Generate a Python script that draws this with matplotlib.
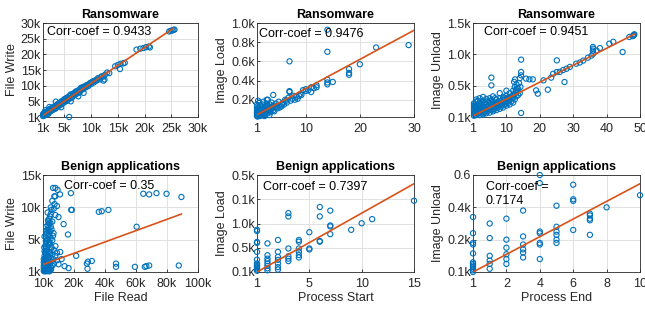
import numpy as np
import matplotlib
matplotlib.use('Agg')
import matplotlib.pyplot as plt

plt.rcParams['font.family'] = ['Liberation Sans', 'DejaVu Sans']
plt.rcParams['font.size'] = 9

BLUE = '#0072BD'
ORANGE = '#D95319'
DARK = '#262626'

# ---- panel 1: Ransomware, File Read vs File Write (thousands) ----
p1_x = [1.0, 1.0, 1.1, 1.2, 1.2, 1.3, 1.4, 1.5, 1.6, 1.7, 1.8, 1.9, 2.0, 2.1, 2.2, 2.4,
        2.5, 2.6, 2.8, 2.9, 3.0, 3.2, 3.3, 3.5, 3.6, 3.8, 3.9, 4.0, 4.2, 4.3, 4.5, 4.6,
        4.8, 4.9, 5.0, 5.2, 5.3, 5.5, 5.6, 5.8, 6.0, 6.1, 6.3, 6.5, 6.6, 6.8, 7.0, 7.1,
        7.3, 7.5, 7.7, 7.9, 8.0, 8.2, 8.4, 8.6, 8.8, 9.0, 9.2, 9.5, 9.7, 10.0, 10.2, 10.5,
        10.8, 11.0, 11.3, 11.6, 12.0, 12.3, 12.6, 13.0, 13.4, 14.5, 15.0, 15.5, 16.0, 16.3,
        15.4, 12.5, 12.3, 18.5, 19.2, 19.8, 20.3, 20.8, 21.0, 24.6, 24.9, 25.2, 25.4, 25.6,
        5.9, 1.5, 2.2, 3.4, 4.4, 6.2, 7.6, 8.6,
        1.3, 1.6, 2.0, 2.3, 2.7, 3.1, 3.4, 3.7, 4.1, 4.4, 4.7, 5.1, 5.4, 5.7, 6.2, 6.4,
        6.9, 7.2, 7.8, 8.1, 8.5, 9.1, 9.4, 9.9, 10.4, 11.1, 11.8]
p1_y = [0.3, 0.9, 0.6, 1.2, 0.4, 0.9, 1.4, 0.8, 1.5, 1.0, 1.8, 1.3, 2.1, 1.4, 2.3, 1.9,
        2.7, 2.0, 2.9, 2.3, 3.3, 2.6, 3.5, 3.0, 3.9, 3.4, 4.3, 3.6, 4.6, 3.9, 5.0, 4.3,
        5.3, 4.6, 5.7, 5.0, 6.0, 5.3, 6.3, 5.7, 6.8, 6.0, 7.0, 6.5, 7.4, 6.9, 7.9, 7.2,
        8.1, 7.6, 8.6, 8.1, 9.0, 8.6, 9.3, 9.0, 9.8, 9.5, 10.2, 10.0, 10.7, 10.5, 11.2, 11.0,
        11.7, 11.6, 12.4, 12.0, 13.0, 12.9, 13.5, 14.2, 14.0, 16.2, 16.6, 17.0, 17.1, 17.3,
        15.3, 12.0, 11.6, 21.5, 21.8, 22.0, 22.3, 22.5, 22.2, 27.3, 27.5, 27.6, 27.8, 27.9,
        0.0, 2.2, 3.2, 4.9, 3.1, 5.0, 6.6, 7.7,
        1.6, 0.7, 1.0, 2.6, 2.4, 3.0, 2.8, 3.3, 4.0, 4.8, 4.9, 5.5, 5.1, 6.0, 7.2, 6.2,
        7.6, 8.2, 7.9, 9.3, 9.6, 10.0, 9.8, 10.9, 11.4, 12.0, 12.7]
p1_fit_x = [1.0, 25.3]
p1_fit_y = [0.5, 28.2]

# ---- panel 2: Ransomware, Process Start vs Image Load ----
p2_x = [1, 1, 1, 1, 1, 1, 1, 1.2, 1.2, 1.3, 1.5, 1.5, 1.5, 1.6, 1.8, 1.8, 2, 2, 2, 2,
        2.2, 2.3, 2.5, 2.5, 2.7, 2.8, 3, 3, 3, 3, 3.2, 3.5, 3.5, 3.7, 3.8, 4, 4, 4, 4.3,
        4.5, 4.8, 5, 5, 5.5, 5.8, 6, 6.2, 6.5, 7, 7, 7, 7.2, 7.5, 7.8, 8, 8.3, 8.5, 9,
        9.5, 10, 10, 10.5, 11, 11, 11.5, 12, 12, 14, 14, 14, 14, 14, 15, 18, 18, 18, 20,
        23, 29, 2.8, 2.2, 1.4, 1.2, 1.1, 1.7, 2.4, 3.3,
        1, 1.1, 1.3, 1.4, 1.6, 1.9, 2.1, 2.4, 2.6, 2.9, 3.1, 3.4, 3.6, 3.9, 4.2, 4.6,
        5.2, 5.6, 6.4, 6.8, 8.8, 9.2]
p2_y = [30, 50, 70, 90, 110, 130, 150, 40, 80, 120, 30, 60, 100, 140, 50, 90, 40, 70, 110, 150,
        60, 100, 50, 130, 80, 160, 60, 100, 140, 200, 90, 120, 70, 170, 110, 90, 140, 250, 120,
        160, 110, 140, 180, 130, 170, 150, 200, 170, 280, 290, 600, 190, 210, 240, 200, 230, 210, 260,
        300, 310, 290, 300, 330, 280, 320, 350, 330, 930, 700, 410, 380, 360, 385, 520, 480, 460, 570,
        745, 770, 200, 180, 170, 190, 25, 35, 30, 40,
        60, 100, 60, 90, 70, 120, 90, 70, 110, 130, 80, 150, 100, 130, 80, 130,
        120, 150, 190, 220, 240, 250]
p2_fit_x = [1, 30]
p2_fit_y = [44, 924]

# ---- panel 3: Ransomware, Process End vs Image Unload ----
p3_x = [0.3, 0.3, 0.3, 0.3, 0.3, 0.3, 0.5, 0.5, 0.5, 1, 1, 1, 1, 1.5, 1.5, 1.5, 2, 2, 2, 2,
        2.5, 2.5, 2.5, 3, 3, 3, 3, 3.5, 3.5, 3.5, 4, 4, 4, 4, 4.5, 4.5, 5, 5, 5, 5, 5.5, 5.5,
        5.5, 5.5, 6, 6, 6, 6.5, 6.5, 7, 7, 7, 7.5, 7.5, 8, 8, 8, 8.5, 8.5, 9, 9, 9, 9.5, 9.5,
        10, 10, 10, 10.5, 10.5, 11, 11, 11, 11.5, 11.5, 12, 12, 12, 12.5, 12.5, 12.5, 13, 13,
        13, 13.5, 13.5, 14, 14, 14.4, 14.4, 14.4, 14.4, 15.9, 16.9, 17.9, 18.9, 19.4, 21.1, 22.4,
        25.1, 25.1, 23.4, 24, 26, 27.4, 27, 28, 29, 30.9, 32, 33, 34.4, 35.5, 35.9, 35.9, 36,
        36, 37, 38, 40.8, 42, 44.8, 46.8, 47.8, 48.2, 48.3, 48, 8, 6, 3, 10, 2, 1,
        0.8, 1.2, 1.8, 2.2, 2.8, 3.2, 3.8, 4.2, 4.8, 5.2, 5.8, 6.2, 6.8, 7.2, 7.8, 8.2,
        8.8, 9.2, 9.8, 10.2, 10.8, 11.2, 11.8, 12.2, 12.8, 13.2, 0.6, 1.4, 2.4, 3.6, 4.4,
        5.6, 6.6, 7.4, 8.6, 9.4, 12.3, 12.6, 13.8, 14.2]
p3_y = [20, 60, 100, 140, 180, 220, 40, 120, 200, 30, 80, 160, 240, 50, 110, 190, 30, 90, 150, 230,
        60, 130, 210, 40, 100, 170, 260, 80, 150, 230, 60, 120, 200, 290, 100, 180, 70, 140, 220, 300,
        110, 505, 628, 190, 90, 160, 250, 130, 210, 110, 180, 280, 150, 240, 130, 200, 300, 170, 260, 150,
        230, 320, 200, 280, 180, 250, 340, 220, 300, 200, 280, 380, 250, 330, 230, 310, 420, 280, 360, 480,
        330, 400, 520, 350, 450, 380, 620, 915, 718, 665, 64, 612, 601, 601, 425, 372, 585, 436,
        904, 718, 628, 690, 720, 558, 750, 770, 800, 851, 870, 900, 947, 980, 1117, 1060, 1010,
        1090, 1060, 1100, 1170, 1200, 1037, 1277, 1290, 1310, 1320, 1300, 380, 330, 320, 420, 300, 280,
        70, 120, 70, 190, 110, 60, 120, 160, 120, 250, 200, 120, 160, 230, 180, 250,
        200, 270, 240, 290, 260, 320, 300, 360, 430, 460, 160, 260, 180, 210, 250,
        270, 300, 200, 220, 310, 560, 600, 540, 480]
p3_fit_x = [0.5, 48.3]
p3_fit_y = [30, 1320]

# ---- panel 4: Benign, File Read vs File Write (thousands) ----
p4_x = [0.5, 0.5, 0.5, 0.5, 0.5, 1, 1, 1, 1, 1, 1, 1.5, 1.5, 1.5, 1.5, 1.5, 2, 2, 2, 2, 2, 2,
        2.5, 2.5, 2.5, 2.5, 2.5, 3, 3, 3, 3, 3, 3, 3, 3.5, 3.5, 3.5, 3.5, 3.5, 3.5, 4, 4, 4, 4,
        4, 4, 4, 4.5, 4.5, 4.5, 4.5, 4.5, 5, 5, 5, 5, 5, 5, 5.5, 5.5, 5.5, 5.5, 6, 6, 6, 6, 6.5,
        6.5, 6.5, 7, 7, 7, 7.3, 7.9, 8, 8, 8, 9, 9, 9.4, 9, 10, 10, 11.1, 12, 13.3, 13.9, 16.1,
        16.5, 18.0, 18.2, 18.6, 21.4, 28.3, 28.7, 29, 31.5, 36.0, 37.9, 42.2, 47.1, 47.1, 59.3,
        60.4, 64.7, 65.7, 66.7, 68.5, 68.5, 73.2, 79.7, 87.6, 89.3, 11, 8, 3, 2, 1, 6, 7.5, 5,
        0.8, 1.2, 1.8, 2.2, 2.8, 3.2, 3.8, 4.2, 4.8, 5.2, 0.8, 1.8, 2.8, 3.8, 4.8, 2.2, 3.2, 6.8]
p4_y = [0.2, 0.6, 1.0, 1.5, 2.0, 0.3, 0.8, 1.3, 1.8, 2.5, 3.2, 0.5, 1.1, 2.2, 3.0, 4.0, 0.4, 1.5,
        2.8, 3.6, 4.5, 5.2, 0.9, 2.0, 3.3, 4.8, 6.0, 0.6, 1.7, 2.6, 3.9, 5.5, 6.5, 7.2, 1.2, 2.4,
        4.2, 5.0, 6.8, 7.8, 0.5, 1.9, 3.1, 4.6, 5.8, 7.5, 8.2, 1.4, 2.9, 4.4, 6.3, 8.6, 0.8, 2.2,
        3.5, 5.2, 7.0, 9.0, 1.6, 3.8, 6.6, 9.6, 1.0, 2.7, 4.9, 7.8, 13.0, 2.0, 5.6, 1.3, 3.4, 9.8,
        11.7, 11.7, 2.5, 4.0, 8.8, 1.8, 3.0, 12.7, 10.2, 8.5, 1.2, 3.1, 2.0, 7.4, 0.9, 5.8, 0.6,
        12.2, 9.6, 9.6, 2.5, 1.3, 0.5, 1.6, 1.7, 9.3, 9.4, 9.6, 1.3, 0.8, 0.8, 7.0, 12.1, 0.8,
        0.9, 1.0, 12.0, 12.2, 12.1, 1.0, 11.6, 12.0, 13.0, 9.2, 7.0, 5.5, 11.0, 10.5, 10.0,
        0.1, 0.2, 0.3, 0.1, 0.2, 0.3, 0.2, 0.1, 0.3, 0.4, 3.8, 4.8, 5.0, 6.2, 7.6, 6.4, 8.0, 6.0]
p4_fit_x = [0, 89.3]
p4_fit_y = [1.15, 8.96]

# ---- panel 5: Benign, Process Start vs Image Load ----
p5_x = [0, 0, 0, 0, 0, 0, 0, 0, 0, 0, 0, 0, 0, 1, 1, 1, 1, 1, 1, 1, 1, 2, 2, 2, 2, 2, 2, 2,
        3, 3, 3, 3, 3, 3, 4, 4, 4, 4, 4, 4, 5, 5, 5, 6, 6, 6, 6, 7, 7, 7, 7, 9, 10, 11, 15]
p5_y = [0.05, 0.1, 0.15, 0.2, 0.25, 0.3, 0.35, 0.51, 0.83, 1.2, 1.24, 1.69, 1.74,
        0.07, 0.15, 0.25, 0.35, 0.45, 0.55, 0.69, 1.18, 0.1, 0.2, 0.35, 0.5, 0.62, 0.83, 1.32,
        0.45, 0.55, 0.65, 0.97, 2.29, 2.43, 0.6, 0.7, 0.83, 0.97, 1.25, 1.32,
        0.93, 0.97, 1.64, 1.25, 1.28, 2.29, 2.68, 1.56, 1.88, 1.92, 2.53, 1.74, 2.01, 2.18, 2.94]
p5_fit_x = [0, 15]
p5_fit_y = [0.0, 3.64]

# ---- panel 6: Benign, Process End vs Image Unload ----
p6_x = [0, 0, 0, 0, 0, 0, 0, 0, 0, 0, 0, 0, 1, 1, 1, 1, 1, 1, 2, 2, 2, 2, 2, 2, 3, 3, 3, 3, 3,
        3, 4, 4, 4, 4, 4, 4, 4, 5, 5, 5, 5, 5, 5, 6, 6, 6, 6, 7, 7, 7, 7, 7, 8, 10]
p6_y = [0.0, 0.01, 0.02, 0.03, 0.04, 0.05, 0.06, 0.115, 0.17, 0.18, 0.24, 0.34,
        0.02, 0.05, 0.07, 0.1, 0.21, 0.3, 0.05, 0.08, 0.11, 0.15, 0.2, 0.33,
        0.09, 0.12, 0.14, 0.17, 0.22, 0.38, 0.08, 0.17, 0.18, 0.24, 0.25, 0.55, 0.6,
        0.18, 0.2, 0.23, 0.25, 0.28, 0.41, 0.26, 0.44, 0.45, 0.54,
        0.23, 0.32, 0.33, 0.35, 0.36, 0.4, 0.475]
p6_fit_x = [0, 10]
p6_fit_y = [0.0, 0.546]

panels = [
    dict(x=p1_x, y=p1_y, fx=p1_fit_x, fy=p1_fit_y, title='Ransomware', ylabel='File Write', xlabel='',
         xlim=(1, 30), ylim=(0, 30),
         xticks=[1, 5, 10, 15, 20, 25, 30], xtl=['1k', '5k', '10k', '15k', '20k', '25k', '30k'],
         yticks=[0, 5, 10, 15, 20, 25, 30], ytl=['1k', '5k', '10k', '15k', '20k', '25k', '30k'],
         txt='Corr-coef = 0.9433', tx=0.025, ty=0.9,
         pos=[43, 23, 198, 117]),
    dict(x=p2_x, y=p2_y, fx=p2_fit_x, fy=p2_fit_y, title='Ransomware', ylabel='Image Load', xlabel='',
         xlim=(1, 30), ylim=(20, 1000),
         xticks=[1, 10, 20, 30], xtl=['1', '10', '20', '30'],
         yticks=[200, 400, 600, 800, 1000], ytl=['0.2k', '0.4k', '0.6k', '0.8k', '1.0k'],
         txt='Corr-coef = 0.9476', tx=0.012, ty=0.885,
         pos=[257, 23, 414, 117]),
    dict(x=p3_x, y=p3_y, fx=p3_fit_x, fy=p3_fit_y, title='Ransomware', ylabel='Image Unload', xlabel='',
         xlim=(0, 50), ylim=(0, 1500),
         xticks=[0, 10, 20, 30, 40, 50], xtl=['1', '10', '20', '30', '40', '50'],
         yticks=[0, 500, 1000, 1500], ytl=['0.1k', '0.5k', '1.0k', '1.5k'],
         txt='Corr-coef = 0.9451', tx=0.065, ty=0.9,
         pos=[473, 23, 640, 117]),
    dict(x=p4_x, y=p4_y, fx=p4_fit_x, fy=p4_fit_y, title='Benign applications', ylabel='File Write',
         xlabel='File Read', xlim=(0, 100), ylim=(0, 15),
         xticks=[0, 20, 40, 60, 80, 100], xtl=['10k', '20k', '40k', '60k', '80k', '100k'],
         yticks=[0, 5, 10, 15], ytl=['1k', '5k', '10k', '15k'],
         txt='Corr-coef = 0.35', tx=0.133, ty=0.885,
         pos=[43, 175, 198, 272]),
    dict(x=p5_x, y=p5_y, fx=p5_fit_x, fy=p5_fit_y, title='Benign applications', ylabel='Image Load',
         xlabel='Process Start', xlim=(0, 15), ylim=(0, 4),
         xticks=[0, 5, 10, 15], xtl=['1', '5', '10', '15'],
         yticks=[0, 1, 2, 3, 4], ytl=['0.1k', '0.5k', '1.0k', '0.1k', '0.5k'],
         txt='Corr-coef = 0.7397', tx=0.04, ty=0.88,
         pos=[257, 175, 414, 272]),
    dict(x=p6_x, y=p6_y, fx=p6_fit_x, fy=p6_fit_y, title='Benign applications', ylabel='Image Unload',
         xlabel='Process End', xlim=(0, 10), ylim=(0, 0.6),
         xticks=[0, 2, 4, 6, 8, 10], xtl=['1', '2', '4', '6', '8', '10'],
         yticks=[0, 0.2, 0.4, 0.6], ytl=['0.1k', '0.2k', '0.4k', '0.6'],
         txt='Corr-coef =\n0.7174', tx=0.075, ty=0.805,
         pos=[473, 175, 640, 272]),
]

W, H = 645, 309
fig = plt.figure(figsize=(W / 100, H / 100), dpi=100)

for p in panels:
    l, t, r, b = p['pos']
    ax = fig.add_axes([l / W, 1 - b / H, (r - l) / W, (b - t) / H])
    ax.grid(True, color='#dcdcdc', linewidth=0.6, zorder=0)
    ax.set_axisbelow(True)
    ax.scatter(p['x'], p['y'], s=14, facecolors='none', edgecolors=BLUE,
               linewidths=0.8, zorder=3, clip_on=False)
    ax.plot(p['fx'], p['fy'], color=ORANGE, linewidth=1.2, zorder=4)
    ax.set_xlim(p['xlim'])
    ax.set_ylim(p['ylim'])
    ax.set_xticks(p['xticks'])
    ax.set_xticklabels(p['xtl'])
    ax.set_yticks(p['yticks'])
    ax.set_yticklabels(p['ytl'])
    ax.tick_params(direction='in', length=2.5, width=0.6, colors=DARK, labelsize=9)
    ax.tick_params(axis='x', pad=4)
    ax.tick_params(axis='y', pad=1.5)
    for s in ax.spines.values():
        s.set_color(DARK)
        s.set_linewidth(0.6)
    ax.set_title(p['title'], fontsize=9, fontweight='bold', color='black', pad=3.5)
    ax.set_ylabel(p['ylabel'], fontsize=9, color=DARK, labelpad=2)
    if p['xlabel']:
        ax.set_xlabel(p['xlabel'], fontsize=9, color=DARK, labelpad=1.5)
    ax.text(p['tx'], p['ty'], p['txt'], transform=ax.transAxes, fontsize=9,
            color='black', va='center', ha='left', zorder=5, linespacing=1.3)

fig.savefig('out.png', dpi=100)
